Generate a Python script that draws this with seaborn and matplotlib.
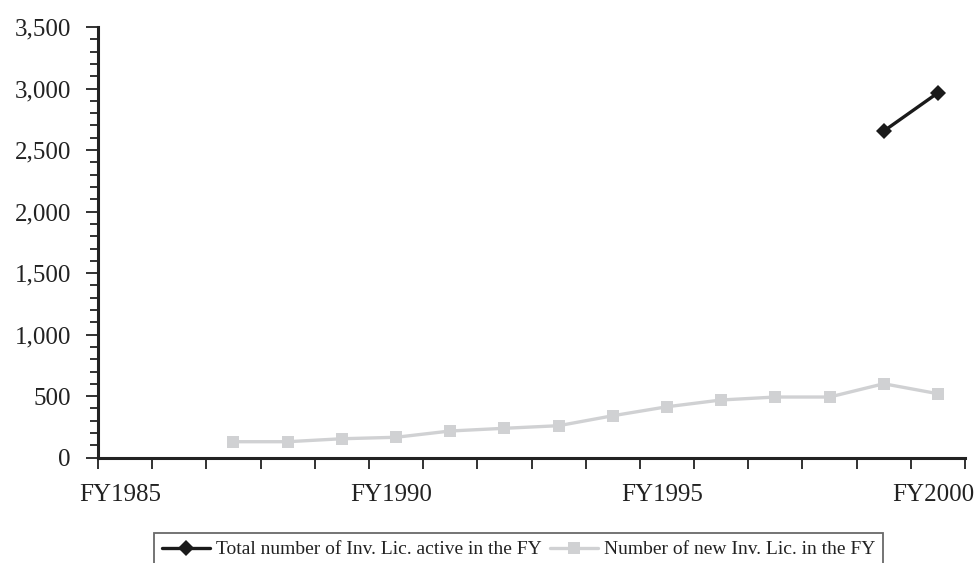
import matplotlib
matplotlib.use("Agg")
import matplotlib.pyplot as plt
import matplotlib.transforms as mtransforms
import seaborn as sns
import numpy as np
import pandas as pd
from matplotlib.ticker import MultipleLocator, FixedLocator, FuncFormatter

years = [f"FY{y}" for y in range(1985, 2001)]
new_lic = [np.nan, np.nan, 130, 130, 154, 166, 217, 239, 260, 341, 414, 469, 493, 493, 601, 520]
total_active = [np.nan] * 14 + [2654, 2965]
tick_labels = ["FY1985", "FY1990", "FY1995", "FY2000"]

label_total = "Total number of Inv. Lic. active in the FY"
label_new = "Number of new Inv. Lic. in the FY"

sns.set_style("white")
plt.rcParams["font.family"] = ["Liberation Serif", "DejaVu Serif"]

df = pd.DataFrame({"year": years, "new": new_lic, "total": total_active})
df["pos"] = np.arange(len(years)) + 0.5

fig = plt.figure(figsize=(9.77, 5.63), dpi=100)
ax = fig.add_axes([98/977, 1-457.7/563, (965-98)/977, (457.7-27)/563])

sns.lineplot(data=df, x="pos", y="total", ax=ax, color="#1a1a1a", linewidth=2.4,
             marker="D", markersize=8, markeredgewidth=0, label=label_total)
sns.lineplot(data=df, x="pos", y="new", ax=ax, color="#d0d1d3", linewidth=2.4,
             marker="s", markersize=8.5, markeredgewidth=0, label=label_new)

ax.set_xlim(0, 16)
ax.set_ylim(0, 3500)
ax.set_xlabel("")
ax.set_ylabel("")

for s in ["top", "right"]:
    ax.spines[s].set_visible(False)
for s in ["left", "bottom"]:
    ax.spines[s].set_color("#222222")
    ax.spines[s].set_linewidth(2.2)

label_pos = [years.index(t) + 0.5 for t in tick_labels]
ax.xaxis.set_major_locator(FixedLocator(label_pos))
ax.set_xticklabels(tick_labels)
ax.xaxis.set_minor_locator(FixedLocator(np.arange(0, 17)))
ax.tick_params(axis="x", which="both", bottom=True)
ax.tick_params(axis="x", which="major", length=0, pad=19, labelsize=18, labelcolor="#222222")
ax.tick_params(axis="x", which="minor", length=8, width=1.3, color="#222222", direction="out")
shift = mtransforms.ScaledTranslation(-5/100, 0, fig.dpi_scale_trans)
for lbl in ax.get_xticklabels():
    lbl.set_transform(lbl.get_transform() + shift)

ax.yaxis.set_major_locator(MultipleLocator(500))
ax.yaxis.set_minor_locator(MultipleLocator(100))
ax.yaxis.set_major_formatter(FuncFormatter(lambda v, p: f"{int(v):,}"))
ax.tick_params(axis="y", which="both", left=True)
ax.tick_params(axis="y", which="major", length=9, width=1.3, color="#222222", pad=10.5,
               labelsize=18, labelcolor="#222222", direction="out")
ax.tick_params(axis="y", which="minor", length=6, width=1.3, color="#222222", direction="out")
ax.grid(False)

handles, labels = ax.get_legend_handles_labels()
ax.get_legend().remove()
leg = fig.legend(handles, labels, loc="upper center", bbox_to_anchor=(518.5/977, 1-533/563),
                 ncol=2, frameon=True, fancybox=False, fontsize=14, handlelength=2.5,
                 handletextpad=0.3, columnspacing=0.4, borderpad=0.4, borderaxespad=0)
leg.get_frame().set_edgecolor("#444444")
leg.get_frame().set_linewidth(1.3)
for t in leg.get_texts():
    t.set_color("#222222")

fig.savefig("out.png", dpi=100)
